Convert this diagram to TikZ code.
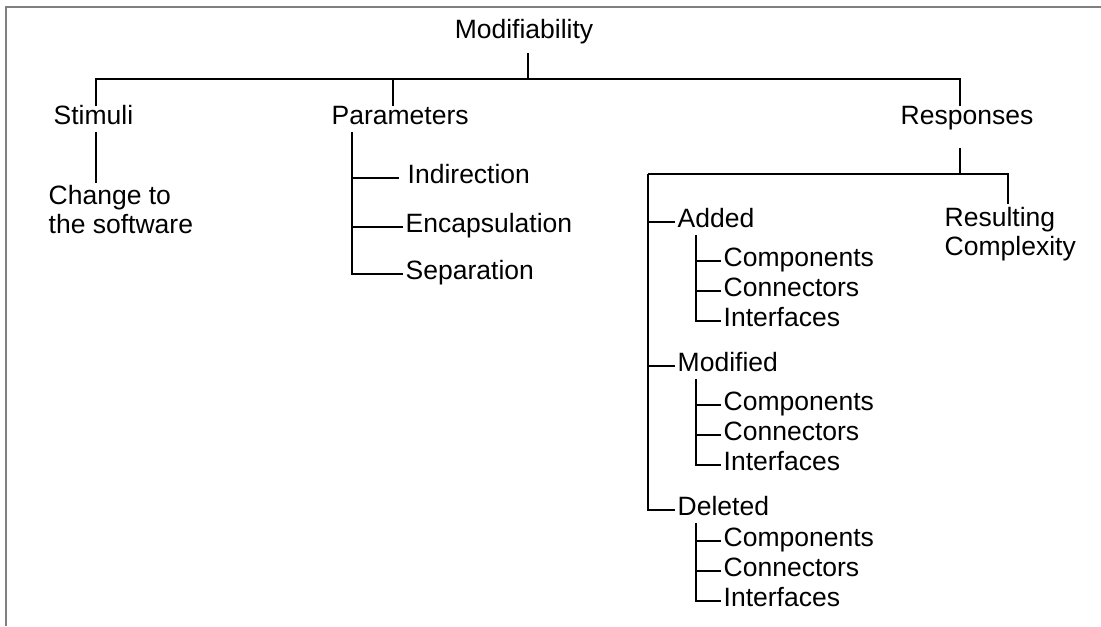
\documentclass[tikz,border=0pt]{standalone}
\usepackage{fontspec}
\setmainfont{Liberation Sans}
\begin{document}
\begin{tikzpicture}[x=0.5pt,y=-0.5pt,line width=0.7pt,
    lbl/.style={font=\fontsize{13.25}{14.5}\selectfont, inner sep=1pt, text height=0.75em, text depth=0.25em, yshift=-2pt},
    leaf/.style={lbl, anchor=west},
    multi/.style={font=\fontsize{13.25}{14.5}\selectfont, inner sep=1pt, align=left, anchor=west, yshift=-2pt}]
    \useasboundingbox (0,0) rectangle (1101,626);
    \draw[gray, line width=0.6pt] (6,626) -- (6,7) -- (1101,7);

    % top level
    \node[lbl] (mod) at (524,30) {Modifiability};
    \node[leaf] (stim) at (51,115) {Stimuli};
    \node[leaf] (par) at (329,115) {Parameters};
    \node[leaf] (resp) at (898,115) {Responses};
    \node[multi] (chg) at (46,206) {Change to\\the software};

    \coordinate (modj) at (528,79);
    \coordinate (barl) at (96,79);
    \coordinate (parj) at (393,79);
    \coordinate (barr) at (960,79);
    \draw[shorten <=3pt] (mod.south -| modj) -- (modj);
    \draw (stim.north -| barl) -- (barl) -- (barr) -- (barr |- resp.north);
    \draw (parj) -- (parj |- par.north);
    \draw (stim.south -| barl) -- (chg.north -| barl);

    % parameters
    \node[leaf] (ind) at (405,174) {Indirection};
    \node[leaf] (enc) at (403,223) {Encapsulation};
    \node[leaf] (sep) at (403,270) {Separation};
    \coordinate (parv) at (352,127);
    \draw (par.south -| parv) |- (sep.west);
    \draw[shorten <=3pt] (ind.west) -- (ind.west -| parv);
    \draw (enc.west) -- (enc.west -| parv);

    % responses
    \node[leaf] (add) at (675,218) {Added};
    \node[leaf] (modi) at (675,362) {Modified};
    \node[leaf] (del) at (675,506) {Deleted};
    \node[multi] (cplx) at (942,230) {Resulting\\Complexity};
    \coordinate (respj) at (960,174);
    \coordinate (respl) at (648,174);
    \coordinate (respr) at (1008,174);
    \draw[shorten <=8pt] (resp.south -| respj) -- (respj);
    \draw (respl) -- (respr) -- (cplx.north -| respr);
    \draw (respl) |- (del.west);
    \draw (add.west) -- (add.west -| respl);
    \draw (modi.west) -- (modi.west -| respl);

    \coordinate (subx) at (696,0);
    \foreach \g/\y/\p in {a/257/add, m/401/modi, d/537/del}{
        \node[leaf] (comp\g) at (721,\y) {Components};
        \node[leaf] (conn\g) at (721,\y+30) {Connectors};
        \node[leaf] (intf\g) at (721,\y+60) {Interfaces};
        \draw (\p.south -| subx) |- (intf\g.west);
        \draw (comp\g.west) -- (comp\g.west -| subx);
        \draw (conn\g.west) -- (conn\g.west -| subx);
    }
\end{tikzpicture}
\end{document}
